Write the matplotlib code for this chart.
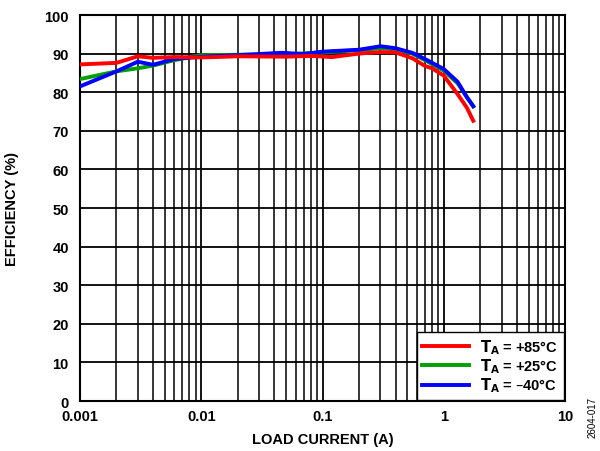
import matplotlib
matplotlib.use('Agg')
import matplotlib.pyplot as plt
from matplotlib.ticker import FixedLocator, NullFormatter

plt.rcParams['font.family'] = ['Liberation Sans', 'DejaVu Sans']
plt.rcParams['font.weight'] = 'bold'
plt.rcParams['mathtext.default'] = 'bf'

# data
i_85 = [0.001, 0.002, 0.003, 0.004, 0.006, 0.01, 0.02, 0.05, 0.08, 0.12, 0.2, 0.3, 0.4, 0.55, 0.7, 0.8, 1.0, 1.3, 1.55, 1.75]
eff_85 = [87.2, 87.6, 89.3, 88.9, 89.1, 89.0, 89.3, 89.2, 89.4, 89.1, 90.0, 90.4, 90.3, 88.8, 86.8, 86.2, 84.3, 79.5, 76.0, 72.6]

i_25 = [0.001, 0.002, 0.003, 0.004, 0.006, 0.01, 0.02, 0.05, 0.1, 0.2, 0.3, 0.4, 0.55, 0.7, 1.0, 1.3, 1.55, 1.75]
eff_25 = [83.4, 85.4, 86.2, 86.9, 88.3, 89.6, 89.7, 89.8, 90.3, 90.9, 91.4, 91.1, 90.0, 88.3, 85.6, 82.3, 78.8, 76.3]

i_40 = [0.001, 0.002, 0.003, 0.004, 0.006, 0.01, 0.02, 0.046, 0.07, 0.1, 0.2, 0.3, 0.4, 0.55, 0.7, 1.0, 1.3, 1.55, 1.75]
eff_40 = [81.5, 85.4, 87.9, 87.1, 88.6, 89.2, 89.6, 90.2, 89.9, 90.5, 91.0, 91.9, 91.4, 90.2, 88.6, 86.0, 82.7, 78.7, 76.4]

fig = plt.figure(figsize=(6, 4.52), dpi=100)
ax = fig.add_axes([0.1333, 0.1106, 0.8084, 0.854])

ax.plot(i_25, eff_25, color='#00a000', lw=2.8, zorder=3, label=r'$T_A$ = +25°C')
ax.plot(i_40, eff_40, color='#0000ff', lw=2.8, zorder=4, label=r'$T_A$ = –40°C')
ax.plot(i_85, eff_85, color='#ff0000', lw=2.8, zorder=5, label=r'$T_A$ = +85°C')

ax.set_xscale('log')
ax.set_xlim(0.001, 10)
ax.set_ylim(0, 100)
ax.set_yticks(range(0, 101, 10))
ax.set_xticks([0.001, 0.01, 0.1, 1, 10])
ax.set_xticklabels(['0.001', '0.01', '0.1', '1', '10'])
minors = [m * 10.0 ** d for d in range(-3, 1) for m in range(2, 10)]
ax.xaxis.set_minor_locator(FixedLocator(minors))
ax.xaxis.set_minor_formatter(NullFormatter())

ax.grid(True, which='major', axis='both', color='black', lw=1.3)
ax.grid(True, which='minor', axis='x', color='black', lw=1.1)
ax.tick_params(which='both', length=0, labelsize=10.5)
ax.tick_params(axis='y', pad=8)
ax.tick_params(axis='x', pad=6)
for s in ax.spines.values():
    s.set_linewidth(1.5)

ax.set_xlabel('LOAD CURRENT (A)', fontsize=10.5, fontweight='bold', labelpad=6)
ax.set_ylabel('EFFICIENCY (%)', fontsize=10.5, fontweight='bold', labelpad=18)

h, l = ax.get_legend_handles_labels()
order = [2, 0, 1]
leg = ax.legend([h[k] for k in order], [l[k] for k in order], loc='lower right',
                fontsize=10.5, frameon=True, fancybox=False, framealpha=1,
                edgecolor='black', handlelength=3.2, labelspacing=0.05,
                borderaxespad=0.1, borderpad=0.35)
leg.get_frame().set_linewidth(1.0)
leg.set_zorder(10)

fig.text(0.987, 0.03, '2604-017', rotation=90, fontsize=7, fontweight='normal',
         ha='center', va='bottom')

fig.savefig('out.png', dpi=100)
